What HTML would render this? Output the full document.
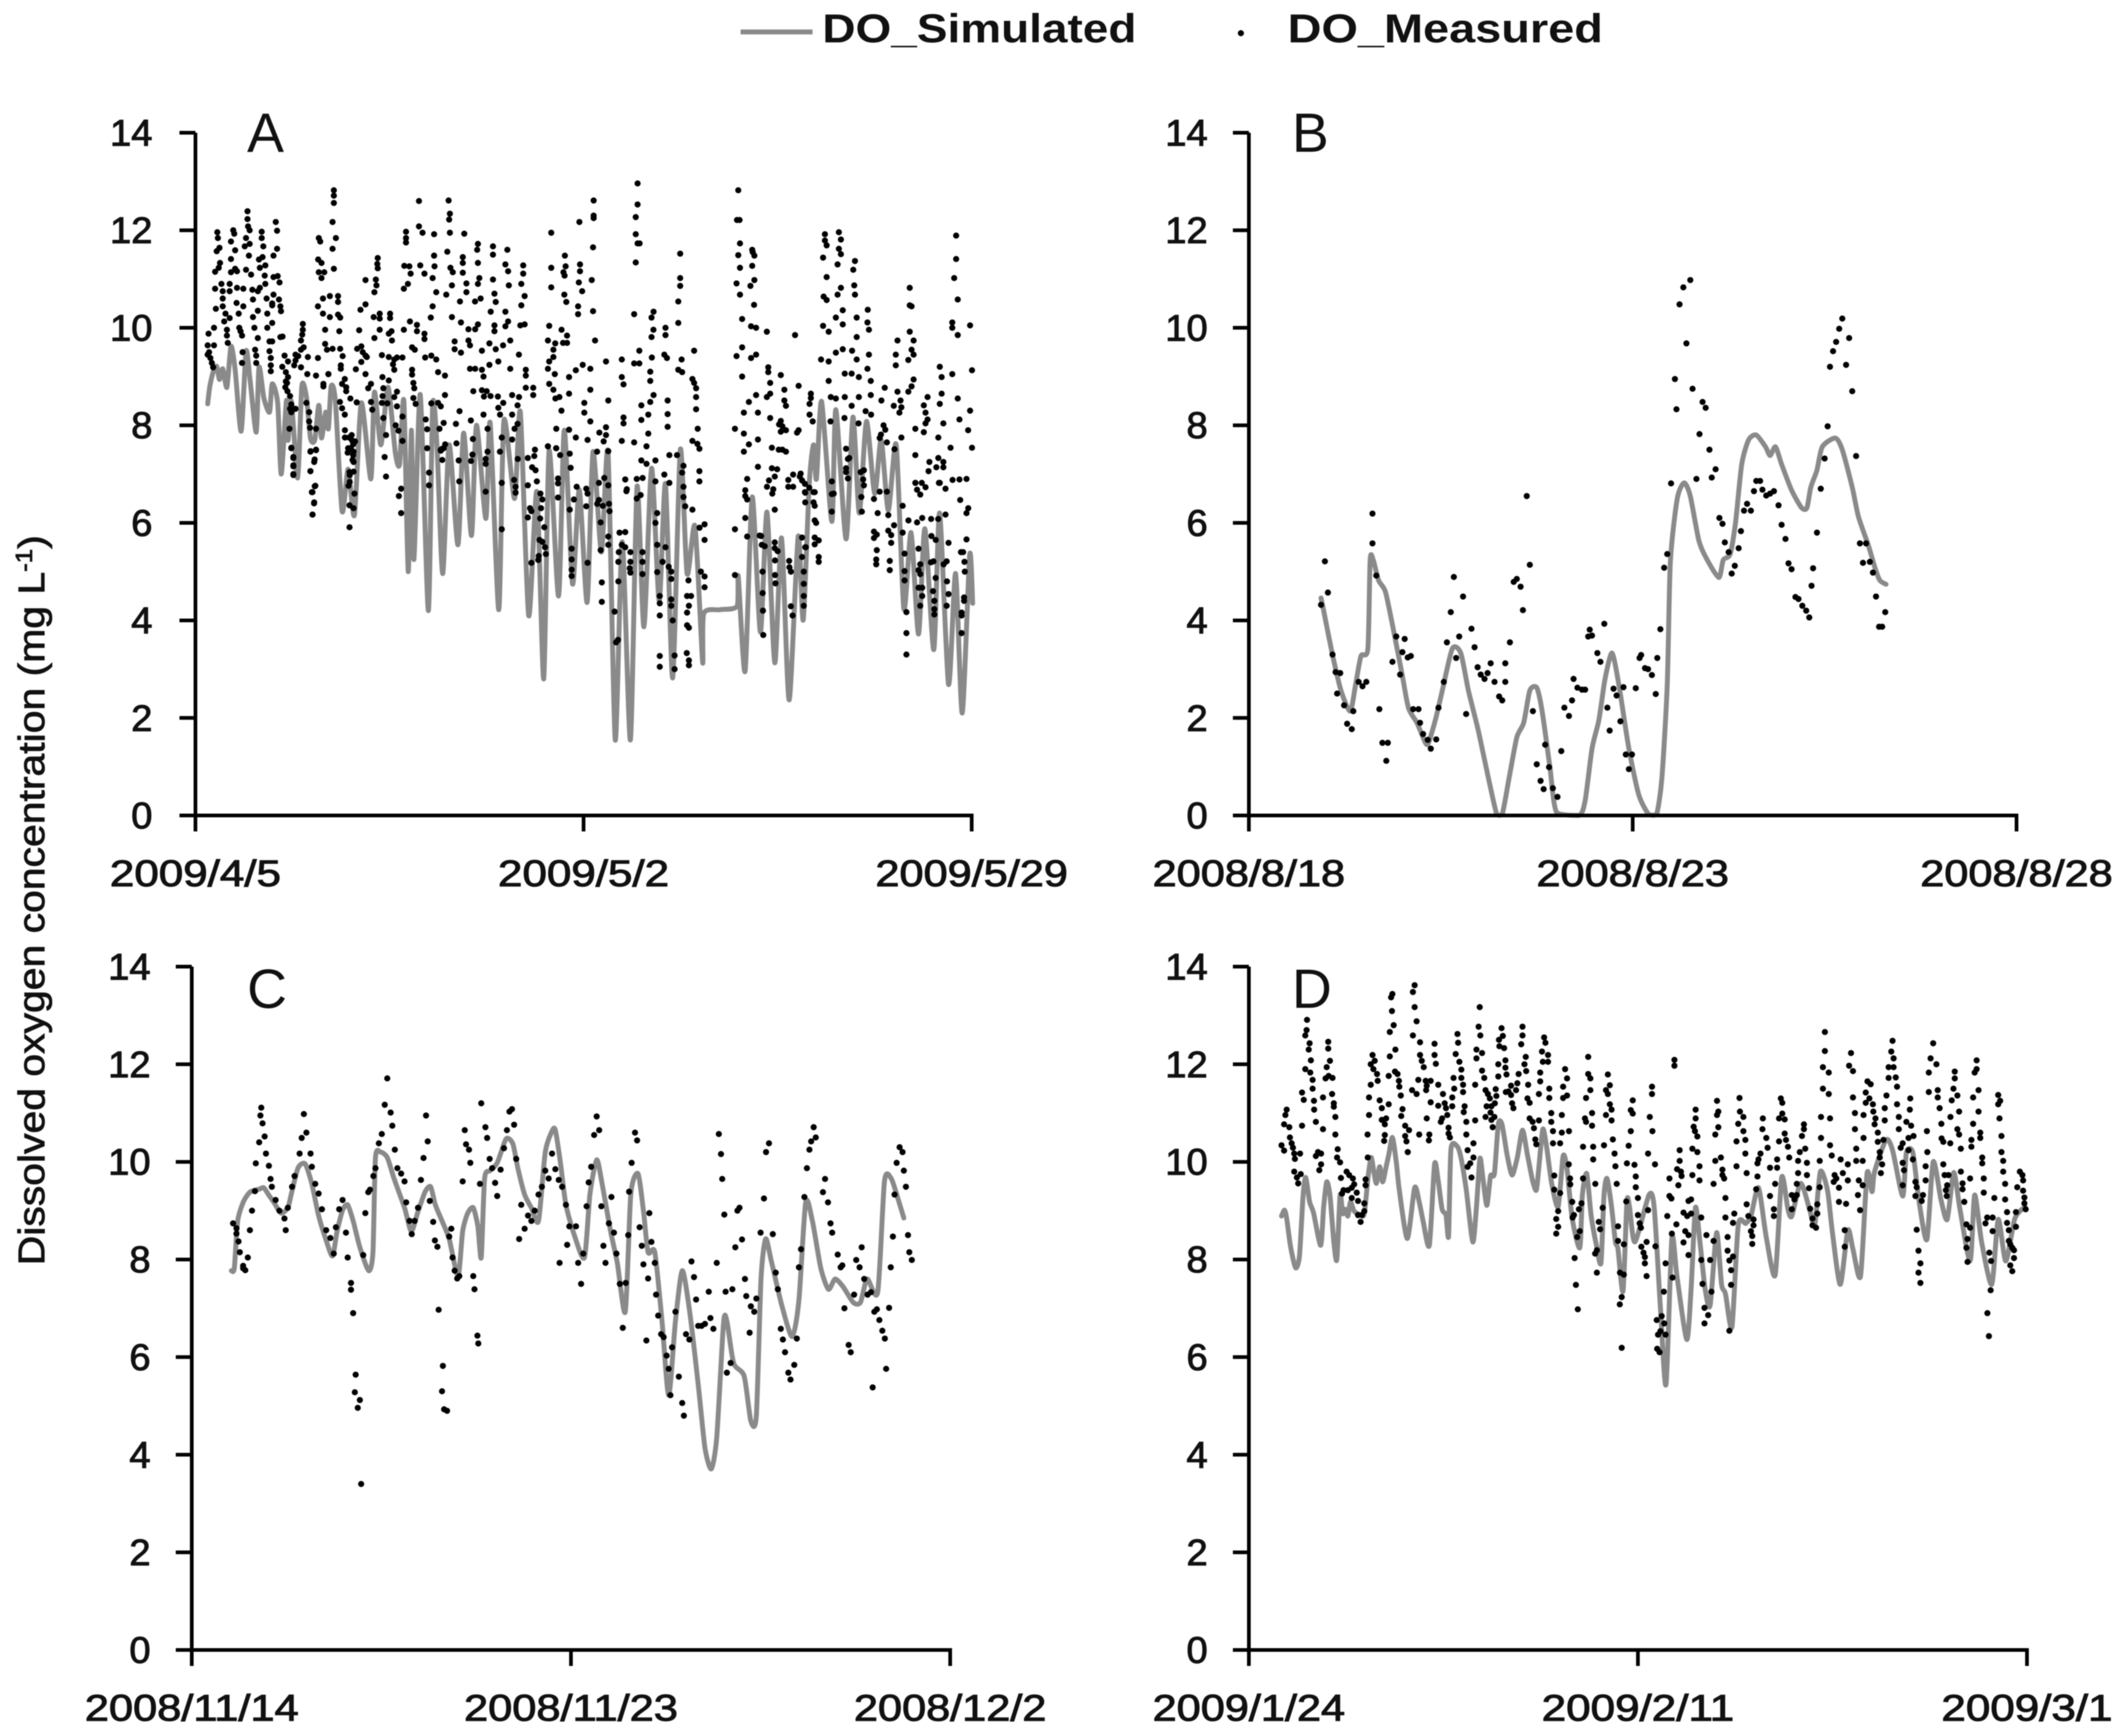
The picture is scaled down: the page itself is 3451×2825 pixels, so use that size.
<!DOCTYPE html>
<html lang="en">
<head>
<meta charset="utf-8">
<title>Dissolved oxygen simulated vs measured</title>
<style>
html,body{margin:0;padding:0;background:#fff;}
#chart{display:block;width:3451px;height:2825px;filter:blur(0.7px);}
text{font-family:"Liberation Sans",sans-serif;fill:#111;}
.tick{font-size:60px;stroke:#111;stroke-width:1.5px;}
.letter{font-size:90px;}
.legend{font-size:66px;font-weight:bold;}
.title{font-size:60px;stroke:#111;stroke-width:1.2px;}
</style>
</head>
<body>
<svg id="chart" xmlns="http://www.w3.org/2000/svg" width="3451" height="2825" viewBox="0 0 3451 2825">
<rect width="3451" height="2825" fill="#fff"/>
<g>
<line x1="1205" y1="52" x2="1322" y2="52" stroke="#8a8a8a" stroke-width="8"/>
<text class="legend" x="1338" y="69" textLength="511" lengthAdjust="spacingAndGlyphs">DO_Simulated</text>
<circle cx="2019" cy="54" r="5" fill="#000"/>
<text class="legend" x="2095" y="69" textLength="513" lengthAdjust="spacingAndGlyphs">DO_Measured</text>
</g>
<text class="title" transform="translate(72,2059) rotate(-90)" textLength="1188" lengthAdjust="spacingAndGlyphs">Dissolved oxygen concentration (mg L<tspan dy="-20" font-size="38">-1</tspan><tspan dy="20">)</tspan></text>
</svg>
<script>
const yTickValues=[0,2,4,6,8,10,12,14];
const xTickDaysA=[0,27,54];
const xTickLabelsA=['2009/4/5','2009/5/2','2009/5/29'];
const xTickDaysB=[0,5,10];
const xTickLabelsB=['2008/8/18','2008/8/23','2008/8/28'];
const xTickDaysC=[0,9,18];
const xTickLabelsC=['2008/11/14','2008/11/23','2008/12/2'];
const xTickDaysD=[0,18,36];
const xTickLabelsD=['2009/1/24','2009/2/11','2009/3/1'];

// [days since first axis date, DO mg/L]
const simulatedA=[[.85,8.44],[1,8.8],[1.23,9.09],[1.48,9.21],[1.67,8.94],[1.9,9.16],[2.19,8.78],[2.47,9.62],[2.76,9.14],[3.18,7.88],[3.52,9.52],[3.81,8.9],[4.23,7.86],[4.42,9.19],[4.76,8.56],[5.15,8.27],[5.34,8.85],[5.72,8.46],[5.97,7],[6.33,8.51],[6.44,7.69],[6.67,8.5],[7.11,6.92],[7.4,8.8],[7.72,8.58],[8,7.74],[8.3,7.7],[8.58,8.41],[8.77,7.74],[9.06,8.27],[9.25,7.93],[9.44,8.8],[9.73,8.51],[10.2,6.24],[10.62,7.1],[11.06,6.16],[11.54,8.46],[12.2,6.9],[12.45,8.68],[12.9,7.6],[13.4,8.78],[13.9,7.45],[14.2,7.2],[14.5,8.5],[14.8,5],[15.02,7.9],[15.2,5.25],[15.64,8.63],[16.2,4.2],[16.5,8.4],[16.8,7.6],[17.2,4.96],[17.65,7.6],[18.26,5.55],[18.66,7.84],[19.2,5.74],[19.55,8],[20.2,6.09],[20.5,8.05],[21.1,4.22],[21.46,8.1],[22.2,6.5],[22.6,8.27],[23.18,4.1],[23.75,6.64],[24.23,2.8],[24.6,7.48],[25.26,4.5],[25.66,7.9],[26.23,4.75],[26.7,6.68],[27.25,4.37],[27.66,7.46],[28.24,5.4],[28.7,7.44],[29.2,1.55],[29.69,5.61],[30.26,1.55],[30.72,6.74],[31.2,3.87],[31.73,7.12],[32.26,4.4],[32.7,6.8],[33.2,2.82],[33.73,7.5],[34.2,4.96],[34.75,5.93],[35.28,3.15],[35.36,4.14],[36.5,4.22],[37.67,4.29],[37.76,4.9],[38.24,2.96],[38.73,6.53],[39.3,3.76],[39.76,6.22],[40.3,3.13],[40.77,5.69],[41.3,2.37],[41.93,5.72],[42.28,4.01],[42.7,6.8],[43,7.6],[43.2,6.9],[43.56,8.49],[44.27,6.03],[44.55,8.32],[45.26,5.67],[45.74,8.17],[46.18,6.2],[46.68,8.08],[47.25,6.6],[47.7,7.7],[48.2,6.26],[48.75,7.6],[49.28,4.24],[49.78,5.8],[50.3,3.72],[50.74,5.88],[51.36,3.4],[51.77,6.2],[52.39,2.69],[52.88,4.96],[53.34,2.1],[53.86,5.34],[54.07,4.35]];
const measuredA=[[.91,9.88],[1.29,10],[.85,9.64],[1.29,9.64],[.85,9.45],[1.04,9.38],[1.14,9.28],[1.23,9.19],[.95,9.5],[1.52,11.96],[1.56,11.84],[1.48,11.57],[1.67,11.64],[1.71,11.33],[1.62,11.23],[1.37,11.15],[1.81,10.9],[1.37,10.8],[1.9,10.75],[2.38,10.9],[2.38,10.75],[1.9,10.6],[1.42,10.39],[1.9,10.44],[2.09,10.29],[2.38,10.2],[2,10.13],[2.19,9.96],[2.19,9.84],[2.25,9.69],[2.63,12],[2.7,11.93],[2.47,11.77],[2.76,11.59],[2.47,11.41],[2.76,11.21],[2.47,11.14],[2.89,11.16],[2.89,10.82],[3.33,10.8],[2.86,10.51],[3.33,10.44],[3.01,10.29],[3.05,10],[3.14,9.93],[3.24,9.84],[3.28,9.5],[3.24,9.28],[3.62,12.39],[3.62,12.23],[3.66,12.08],[3.77,12],[3.52,11.84],[3.77,11.72],[3.43,11.67],[3.72,11.48],[3.52,11.19],[3.87,11.09],[3.96,10.78],[4,10.58],[4,10.22],[4.34,10.35],[4.1,10],[4.34,9.79],[4.15,9.55],[4.23,9.43],[4.23,9.28],[4.61,11.97],[4.61,11.84],[4.72,11.67],[4.67,11.45],[4.42,11.4],[4.86,11.28],[4.48,11.23],[4.82,11.07],[4.86,10.9],[4.48,10.82],[4.34,10.75],[4.95,10.6],[5.34,10.5],[5,10.29],[5.34,10.1],[5,10],[5.15,9.72],[5.34,9.72],[5.15,9.52],[5.24,9.38],[5.24,9.23],[5.24,9.11],[5.59,12.17],[5.68,11.99],[5.68,11.62],[5.43,11.48],[5.72,11.06],[5.43,11.04],[5.85,10.93],[5.43,10.68],[5.81,10.58],[5.34,10.46],[5.91,10.44],[5.95,10.34],[5.91,9.81],[6.06,9.82],[6.2,9.43],[6.44,9.31],[6.04,9.2],[6.29,9.09],[6.44,8.99],[6.29,8.9],[6.37,8.87],[6.25,8.78],[6.4,8.7],[6.58,8.6],[6.67,8.43],[6.96,8.34],[6.58,8.34],[6.67,8.27],[6.54,7.93],[6.67,7.54],[6.81,7.35],[6.81,7.16],[6.81,6.98],[7.47,10.08],[7.47,9.96],[7.43,9.86],[7.34,9.74],[7.53,9.6],[7.34,9.55],[6.96,9.45],[7.15,9.42],[7.82,9.4],[6.96,9.33],[6.87,9.23],[7.34,9.19],[7.78,9.05],[8.39,9.02],[9.25,9.05],[7.72,8.46],[7.91,8.27],[7.91,8.08],[7.97,7.95],[8.39,7.93],[8.01,7.47],[8.39,7.49],[8.29,7.3],[8.0,7.06],[8.3,6.75],[8.1,6.63],[8.25,6.4],[8.15,6.17],[9.63,12.82],[9.63,12.71],[9.63,12.56],[9.54,12.17],[9.77,11.84],[9.54,11.62],[9.63,11.21],[8.58,11.84],[8.68,11.77],[8.54,11.4],[8.77,11.33],[8.58,11.14],[8.96,11.14],[8.77,11.02],[8.87,10.6],[9.35,10.65],[9.92,10.65],[9.92,10.53],[8.52,10.44],[8.87,10.29],[9.35,10.22],[9.92,10.27],[10.07,10.21],[9.02,9.96],[10.01,9.93],[9.02,9.67],[9.15,9.55],[9.54,9.57],[10.07,9.57],[8.52,9.38],[10.24,9.42],[10.11,9.23],[10.11,9.16],[9.25,9.05],[8.9,8.85],[8.9,8.8],[10.39,8.95],[10.2,8.85],[10.49,8.7],[10.49,8.78],[10.05,8.48],[10.78,8.55],[10.2,8.35],[10.39,8.22],[10.4,7.9],[10.68,7.75],[10.9,7.69],[11.1,7.67],[10.81,7.53],[11.0,7.46],[10.93,7.29],[10.59,7.44],[11,7.25],[11.0,7.05],[10.73,6.98],[10.73,6.84],[10.65,6.76],[11.06,6.6],[10.72,6.36],[12.68,11.43],[12.65,11.31],[12.68,11.22],[11.83,10.98],[12.55,10.99],[12.59,10.87],[12.45,10.73],[11.83,10.48],[11.48,10.37],[12.82,10.29],[13.54,10.29],[13.54,10.2],[12.4,10.22],[12.82,10.19],[12.82,9.96],[11.39,9.95],[13.64,9.93],[13.45,9.88],[12.45,9.79],[13.67,9.74],[11.54,9.62],[11.25,9.57],[11.64,9.5],[11.83,9.43],[11.92,9.4],[11.54,9.3],[12.97,9.44],[13.45,9.4],[13.83,9.35],[13.74,9.25],[13.83,9.14],[11.16,9.15],[11.83,9.05],[13.01,8.99],[13.45,8.92],[12.21,8.85],[12.02,8.76],[13.07,8.76],[13.02,8.6],[14.02,8.69],[13.83,8.58],[12.21,8.48],[12.3,8.32],[11.22,8.47],[12.97,8.46],[13.35,8.45],[14.02,8.39],[13.07,8.15],[14.4,8.18],[13.93,8],[14.12,7.89],[14.4,7.68],[14.02,9.39],[14.65,11.97],[14.65,11.84],[14.65,11.75],[15.55,12.6],[15.55,12.08],[15.8,11.95],[14.53,11.27],[14.88,11.26],[14.97,11.11],[15.64,11.28],[15.93,11.11],[14.78,10.9],[14.5,10.8],[16.6,11.92],[16.6,11.48],[16.63,11.26],[16.5,11.02],[16.75,10.73],[16.5,10.44],[16.37,10.21],[14.92,10.13],[15.41,10.06],[14.5,9.96],[15.41,9.93],[15.93,9.88],[15.93,9.77],[15.07,9.6],[15.26,9.55],[14.4,9.39],[15.98,9.39],[16.41,9.43],[16.75,9.35],[15.07,9.14],[15.07,9.04],[16.88,9.09],[17.36,9.02],[15.16,8.87],[15.22,8.76],[17.36,8.62],[15.16,8.56],[15.32,8.44],[16.41,8.45],[16.88,8.46],[17.07,8.39],[16.02,8.12],[16.12,7.92],[17.27,8.05],[16.98,7.93],[17.27,7.53],[17.07,7.5],[18.12,8.03],[18.37,8.29],[19.16,8.1],[19.33,8.7],[19.93,8.72],[20.07,8.59],[20.26,8.7],[20.53,8.6],[21.04,8.59],[21.41,8.46],[21.07,8.36],[21.19,8.22],[22.03,8.22],[22.03,8.62],[22.51,8.58],[22.41,8.41],[20.04,8.22],[20.32,7.93],[21.31,7.75],[22.03,7.71],[22.41,8.03],[22.2,7.93],[17.61,12.61],[17.7,12.34],[17.65,12.22],[17.7,11.95],[18.7,11.93],[17.52,11.56],[19.65,11.72],[19.6,11.6],[20.7,11.67],[20.7,11.5],[21.7,11.6],[18.6,11.45],[18.6,11.33],[19.65,11.33],[16.6,11.48],[17.74,11.23],[17.9,11.14],[18.6,11.13],[21.56,11.3],[21.75,11.16],[22.8,11.28],[22.8,11.11],[19.75,11.02],[20.7,10.99],[19.65,10.9],[18.85,10.91],[17.84,10.87],[21.8,10.87],[22.67,10.9],[17.45,10.68],[18.85,10.73],[20.8,10.7],[20.89,10.53],[19.84,10.6],[19.45,10.54],[18.4,10.54],[22.9,10.65],[22.67,10.46],[17.84,10.22],[18.47,10.11],[20.54,10.33],[21.56,10.33],[21.75,10.13],[18.99,9.97],[19.65,10.07],[19.46,9.97],[20.8,10.05],[20.8,9.93],[21.56,10.03],[22.6,10.05],[22.9,10.07],[18.03,9.72],[18.03,9.56],[18.47,9.49],[18.99,9.74],[19.1,9.64],[19.93,9.53],[20.45,9.68],[20.89,9.56],[21.4,9.64],[21.9,9.74],[22.5,9.45],[19.1,9.16],[19.46,9.16],[19.93,9.14],[20.04,9.0],[20.45,9.24],[21.07,9.31],[21.9,9.16],[22.98,9.14],[22.98,9.02],[22.98,8.77],[23.5,8.77],[23.5,8.62],[24.75,11.95],[24.75,11.23],[24.75,10.83],[25.7,11.48],[25.75,11.26],[25.68,11.07],[25.6,11.14],[26.71,12.17],[27.7,12.61],[27.7,12.3],[27.7,12.25],[27.66,11.65],[26.75,11.3],[26.75,11.16],[27.57,10.98],[26.67,10.93],[26.9,10.75],[25.66,10.68],[25.8,10.53],[26.62,10.44],[26.62,10.28],[27.66,10.34],[24.61,10.04],[25.47,9.96],[25.85,9.84],[25.85,9.69],[24.52,9.74],[25.03,9.68],[25.57,9.69],[27.8,9.74],[24.9,9.55],[24.9,9.4],[24.61,9.31],[24.52,9.16],[25.0,9.05],[25.99,8.99],[26.46,9.13],[26.94,9.24],[27.47,9.16],[28.56,9.31],[24.61,8.85],[24.9,8.73],[25.32,8.58],[25.04,8.55],[25.99,8.65],[27.47,8.73],[28.72,8.51],[27.05,8.46],[25.46,8.3],[27.05,8.26],[27.47,8.08],[25.1,7.93],[25.99,7.91],[26.46,7.75],[27.28,7.7],[28.1,7.85],[28.56,7.96],[28.56,7.8],[28.4,7.67],[24.52,7.57],[25.1,7.53],[27.94,7.46],[28.72,7.47]
,[6.67,7.53],[6.81,7.33],[6.81,7.18],[6.81,7],[8.39,7.5],[8.0,7.46],[8.26,7.25],[8.0,7.06],[8.34,6.76],[8.14,6.63],[8.26,6.42],[8.14,6.17],[10.4,7.75],[10.87,7.8],[10.97,7.61],[10.62,7.53],[10.97,7.39],[10.72,7.04],[11.0,6.3],[10.72,5.91],[13.26,7.8],[13.16,7.35],[13.26,6.95],[14.4,7.68],[14.31,6.7],[14.15,6.55],[14.31,6.2],[16.12,7.53],[16.25,7.03],[16.25,6.77],[17.17,7.52],[17.37,7.61],[17.07,7.48],[17.17,7.29],[18.16,7.63],[18.31,7.28],[19.3,7.72],[19.27,7.4],[19.17,7.27],[18.35,6.85],[20.32,7.46],[20.19,7.31],[20.19,7.21],[20.19,6.64],[21.31,7.75],[21.18,7.46],[22.42,7.31],[21.31,6.82],[21.31,5.87],[22.17,6.88],[22.27,6.74],[22.27,6.62],[23.12,7.33],[23.62,7.5],[23.57,7.37],[23.12,6.77],[23.42,7.14],[23.66,7.08],[23.75,6.85],[24.0,6.6],[24.13,6.48],[24.04,6.3],[23.98,6.09],[24.27,5.91],[23.27,6.3],[23.37,6.24],[23.12,6.11],[23.93,5.65],[24.13,5.61],[24.32,5.5],[24.38,5.36],[23.88,5.32],[23.85,5.24],[23.37,5.18],[24.52,7.57],[25.09,7.53],[25.37,7.39],[26.04,7.42],[26.1,7.13],[25.22,6.91],[25.22,6.81],[25.22,6.52],[26.04,6.27],[26.17,5.47],[26.17,5.25],[26.17,5.04],[26.17,4.91],[26.52,6.74],[26.33,6.48],[27.19,6.7],[27.28,6.6],[27.19,6.34],[27.28,5.18],[28.07,6.82],[28.44,6.92],[28.72,6.77],[28.07,6.47],[27.95,6.39],[28.34,6.35],[28.77,6.39],[28.81,6.24],[28.19,6.01],[28.19,5.44],[28.27,4.78],[28.27,4.38],[28.72,5.72],[28.72,5.55]
,[30.76,12.96],[30.76,12.53],[30.63,12.27],[30.63,11.92],[30.76,11.73],[30.9,11.73],[30.63,11.34],[30.52,10.28],[31.87,10.33],[31.73,10.21],[31.86,9.96],[31.73,9.81],[32.7,10],[32.7,9.85],[30.88,9.53],[29.66,9.35],[30.52,9.27],[30.88,9.27],[31.75,9.39],[32.62,9.45],[32.8,9.38],[33.72,11.52],[33.72,11.02],[33.72,10.86],[33.59,10.54],[33.59,10.1],[34.69,9.53],[33.82,9.35],[33.59,9.14],[33.86,9.09],[34.57,8.95],[34.69,8.87],[34.83,8.76],[34.83,8.58],[34.83,8.33],[34.94,7.93],[34.57,7.68],[34.92,7.62],[35.06,7.52],[35.06,7.06],[35.06,6.85],[29.66,8.99],[29.78,8.84],[31.64,9.1],[31.64,8.91],[31.87,8.62],[31.64,8.48],[31.02,8.41],[31.5,8.22],[31.02,8.11],[29.78,8.16],[29.78,8.04],[31.5,7.83],[29.66,7.68],[30.52,7.65],[31.38,7.57],[31.02,7.28],[31.38,7.21],[32,7.28],[29.9,6.89],[31.11,6.92],[32,6.85],[30.01,6.69],[32.62,6.99],[32.97,6.82],[33.5,7.39],[32.97,7.39],[32.85,8.51],[32.85,8.23],[32.85,7.97],[33.95,7.17],[33.86,7.03],[33.95,6.74],[33.95,6.53],[34.07,6.34],[34.57,6.27],[29.9,6.89],[29.98,6.65],[29.9,5.81],[29.9,5.5],[29.5,5.8],[29.45,5.4],[29.42,5.2],[29.66,5.55],[29.42,4.8],[29.16,4.18],[29.26,3.55],[29.4,3.6],[30.26,5.4],[30.26,5.2],[30.26,4.98],[30.21,5.07],[30.7,6.9],[30.7,6.5],[30.97,6.57],[31.1,5.4],[31.1,5.2],[31.1,4.95],[32.12,6.2],[32,6.0],[32.12,5.55],[32.12,4.99],[32.5,5.2],[32.3,4.5],[32.3,4.35],[32.3,4.1],[32.3,3.27],[32.3,3.05],[32.7,5.5],[32.92,5.1],[33.1,5],[33.1,4.85],[33.1,4.43],[33.1,4.3],[33.2,4],[33.33,3.28],[33.33,3.0],[34.3,4.82],[34.48,4.5],[34.2,4.5],[34.33,4.3],[34.2,4.16],[34.33,3.85],[34.2,3.9],[34.33,3.08],[34.18,3.33],[34.33,3.18],[35.07,5.9],[35.16,5.0],[35.42,5.97],[35.42,5.65],[35.42,4.9],[35.42,4.68],[37.53,5.87],[37.53,4.93],[38.25,6.67],[38.25,6.55],[38.38,6.48],[38.25,6.1],[38.38,5.72],[37.76,12.82],[37.67,12.21],[37.85,12.21],[37.88,11.73],[37.76,11.49],[37.88,11.23],[37.64,10.91],[37.88,10.68],[38.73,11.6],[38.77,11.55],[38.88,11.48],[38.73,11.27],[38.88,10.98],[38.61,10.86],[38.86,10.47],[38.03,10.18],[38.65,10.03],[39,10],[39.75,9.92],[41.71,9.85],[38.03,9.6],[37.64,9.42],[38.65,9.38],[39,9.45],[38.03,9],[39.85,9.19],[39.85,9.09],[40.72,9.03],[39.98,8.87],[41.96,8.81],[40.97,8.73],[39.98,8.65],[39.75,8.58],[39,8.62],[38.5,8.48],[40.97,8.51],[41.08,8.4],[38.15,8.26],[39.13,8.26],[39.98,8.15],[40.72,8.09],[40.6,8.02],[40.83,7.98],[41.08,7.9],[37.53,7.93],[38.15,7.83],[40.72,7.87],[41.96,7.9],[41.85,7.85],[39.13,7.71],[38.5,7.61],[38.15,7.46],[40.1,7.54],[40.58,7.5],[40.83,7.5],[41.08,7.46],[39.13,7.15],[40.1,7.12],[40.47,7.1],[39.9,6.87],[40.3,6.95],[38.38,6.9],[41.58,6.99],[39.76,6.74],[40.2,6.69],[41.58,6.74],[42.1,7.01],[42.04,6.95],[42.2,6.87],[42.4,6.8],[42.7,6.72],[40.3,6.27],[40.13,6.6],[41.24,6.88],[41.24,6.74],[42.42,6.62],[42.42,6.42],[39.25,5.74],[39.35,5.73],[39.4,5.55],[39.6,5.52],[39.45,5.0],[40.3,5.6],[40.3,5.48],[39.46,4.56],[39.48,4.2],[39.5,3.7],[40.5,5.42],[40.32,5.23],[40.32,4.93],[40.35,4.76],[41.3,5.22],[41.32,5.09],[41.42,5.0],[41.42,4.29],[41.54,4.1],[42.2,5.7],[42.46,5.5],[42.2,5.3],[42.32,5.0],[42.32,4.75],[42.32,4.5],[42.32,4.3],[42.4,6.63],[42.42,5.5],[43.0,6.63],[43.0,6.42],[43.08,6.63],[43.08,6.35],[43.08,6.05],[43.08,5.7],[43.08,5.56],[43.18,6.0],[43.36,5.64],[43.36,5.3],[43.36,5.2],[44.27,6.85],[44.27,6.59],[44.4,6.6],[44.27,6.23],[45.26,7.52],[45.39,7.31],[45.48,7.33],[45.26,7.12],[45.26,7.04],[45.39,6.91],[46.28,7.04],[46.5,7.08],[46.45,6.89],[46.5,6.77],[46.32,6.53],[46.36,6.23],[47.2,6.49],[47.6,6.64],[48.1,6.64],[47.46,6.2],[48.2,6.16],[47.2,5.82],[47.4,5.76],[47.2,5.69],[47.4,5.44],[47.36,5.25],[47.36,5.15],[48.2,5.84],[48.4,5.75],[48.6,5.95],[48.4,5.59],[48.3,5.22],[48.3,5.03],[49.2,6.35],[49.2,5.8],[49.33,5.37],[49.33,5.01],[49.33,4.82],[49.46,4.17],[49.46,3.74],[49.46,3.3],[49.6,6.05],[50.2,6.01],[50.09,6.82],[50.2,6.68],[50.42,6.58],[50.56,6.1],[51.18,6.08],[51.67,6.08],[52.18,6.17],[51.2,5.73],[51.5,5.65],[50.3,5.47],[50.42,5.15],[50.3,5.03],[50.42,4.95],[50.3,4.67],[50.56,4.67],[50.56,4.5],[50.42,4.3],[51.34,5.21],[51.16,5.19],[51.49,4.87],[51.31,4.6],[51.4,4.4],[51.4,4.23],[51.4,4.12],[52.39,5.59],[52.26,5.21],[52.05,5.15],[52.28,4.8],[52.39,4.54],[52.26,4.3],[53.64,5.66],[53.4,5.4],[53.5,5.2],[53.25,5.4],[53.52,5],[53.47,4.47],[53.47,4.4],[53.3,4.16],[53.3,4.1],[53.3,3.74]
,[43.79,11.92],[43.79,11.79],[43.91,11.69],[43.66,11.44],[43.91,11.04],[43.7,10.64],[43.91,10.57],[43.66,10.04],[44.05,9.92],[44.76,11.96],[44.9,11.81],[44.76,11.62],[44.9,11.51],[44.67,11.3],[44.9,10.82],[44.67,10.68],[45.88,11.37],[45.76,11.19],[45.83,10.87],[45.88,10.68],[45.03,10.36],[44.55,10.21],[45.03,10.07],[46,10.21],[46,9.81],[46.77,10.37],[46.75,10.11],[46.85,9.96],[45.03,9.56],[44.55,9.49],[45.68,9.53],[46,9.35],[46.85,9.45],[43.52,9.35],[44.05,9.31],[46.75,9.16],[45.17,9.06],[45.65,9.06],[46.15,8.99],[46.98,8.91],[44.05,8.91],[42.81,8.65],[42.81,8.56],[42.72,8.44],[44.2,8.58],[44.55,8.55],[45.17,8.58],[46.15,8.58],[46.98,8.62],[45.65,8.4],[42.72,8.22],[42.94,8.08],[44.18,8.08],[45.15,8.15],[46.13,8.04],[46.62,8.29],[47,8.22],[47.72,8.51],[47.95,8.77],[48.84,8.69],[48.84,9.74],[48.72,9.45],[48.72,9.23],[49.69,10.82],[49.69,10.46],[49.82,10.44],[49.69,9.92],[49.96,9.74],[49.82,9.55],[49.96,9.45],[49.59,9.34],[49.96,8.94],[49.82,8.8],[49.59,8.69],[49.05,8.51],[48.58,8.4],[49.11,8.37],[48.97,8.26],[47.99,7.91],[47.87,8],[47.69,7.81],[47.6,7.74],[48.1,7.65],[49.11,7.75],[48.63,7.51],[50.08,7.93],[50.67,8.41],[50.79,8.26],[50.93,8.12],[50.79,8.04],[50.67,7.86],[50.93,8.58],[51.78,9.2],[51.91,8.99],[51.91,8.65],[51.78,8.44],[52.03,8.04],[51.68,7.75],[50.08,7.39],[51.06,7.25],[51.68,7.33],[52.03,7.25],[51.54,7.14],[52.03,7.14],[51,7.06],[50.08,6.82],[50.53,6.82],[50.79,6.73],[51.78,6.82],[52.92,11.89],[52.92,11.41],[52.78,11.02],[53.03,10.58],[52.65,10.11],[52.65,10],[53.03,9.85],[53.89,10.05],[52.65,9.05],[54.02,9.13],[53.03,8.55],[53.89,8.3],[53.15,8.12],[53.75,7.9],[52.53,7.54],[54.02,7.54],[53.15,6.89],[51.72,6.82],[52.18,6.7],[52.67,6.88],[53.64,6.9],[53.2,6.47],[53.76,6.3],[53.64,6.2]];

const simulatedB=[[.94,4.46],[.97,4.23],[1.09,3.29],[1.2,2.56],[1.32,2.14],[1.39,2.68],[1.46,3.27],[1.55,3.42],[1.58,5.24],[1.62,5.24],[1.69,4.82],[1.78,4.58],[1.89,3.75],[2,2.86],[2.08,2.2],[2.19,1.9],[2.3,1.49],[2.34,1.49],[2.43,1.96],[2.52,2.56],[2.65,3.42],[2.76,3.33],[2.86,2.56],[2.99,1.73],[3.12,.77],[3.23,.02],[3.3,.02],[3.39,.77],[3.49,1.6],[3.58,1.9],[3.66,2.56],[3.75,2.62],[3.82,2.14],[3.92,1.01],[4.01,.06],[4.3,0],[4.38,.3],[4.47,1.37],[4.56,1.96],[4.64,2.8],[4.73,3.33],[4.82,2.68],[4.95,1.37],[5.08,.42],[5.21,.02],[5.31,.02],[5.38,.77],[5.45,2.68],[5.49,5.18],[5.58,6.49],[5.67,6.82],[5.75,6.55],[5.86,5.65],[5.95,5.3],[6.12,4.88],[6.18,5.24],[6.27,5.36],[6.34,6.01],[6.42,7.2],[6.51,7.7],[6.61,7.8],[6.73,7.56],[6.79,7.38],[6.86,7.56],[6.94,7.2],[7.07,6.67],[7.2,6.31],[7.27,6.31],[7.32,6.73],[7.4,7.08],[7.47,7.56],[7.64,7.74],[7.73,7.5],[7.86,6.73],[7.94,6.13],[8.07,5.54],[8.16,5.06],[8.22,4.82],[8.3,4.74]];
const measuredB=[[.94,4.32],[.99,5.21],[1.03,4.57],[1.09,3.3],[1.13,2.94],[1.19,2.92],[1.15,2.5],[1.24,2.26],[1.28,1.88],[1.34,1.77],[1.36,2.14],[1.43,2.74],[1.48,2.65],[1.53,2.74],[1.61,5.58],[1.61,6.19],[1.66,4.92],[1.7,2.18],[1.74,1.49],[1.81,1.49],[1.79,1.12],[1.87,3.15],[1.92,3.67],[1.97,2.89],[2,3.35],[2.03,3.62],[2.07,3.24],[2.11,3.27],[2.14,2.18],[2.21,2.18],[2.23,1.9],[2.27,1.67],[2.33,1.55],[2.37,1.37],[2.47,2.21],[2.44,1.56],[2.54,2.74],[2.58,3.55],[2.63,4.17],[2.67,4.89],[2.7,3.23],[2.74,3.67],[2.79,4.49],[2.83,2.08],[2.9,3.83],[2.94,3.45],[2.98,3.04],[3.02,2.89],[3.07,2.8],[3.11,2.92],[3.15,3.12],[3.2,2.74],[3.26,2.44],[3.3,2.36],[3.34,3.12],[3.34,2.74],[3.4,3.55],[3.45,4.79],[3.49,4.85],[3.54,4.69],[3.57,4.21],[3.62,6.55],[3.66,5.14],[3.7,2.14],[3.75,1.05],[3.8,.71],[3.84,.54],[3.86,1.45],[3.91,.99],[3.96,.56],[4.02,.38],[4.07,1.32],[4.11,2.21],[4.17,2.04],[4.23,2.8],[4.21,2.36],[4.28,2.62],[4.34,2.58],[4.38,2.58],[4.42,3.67],[4.44,3.81],[4.47,3.69],[4.54,3.33],[4.58,3.15],[4.63,3.93],[4.67,2.21],[4.7,1.74],[4.75,2.6],[4.79,2.46],[4.84,1.93],[4.88,2.63],[4.91,1.25],[4.95,.95],[4.99,1.25],[5.04,2.61],[5.09,3.23],[5.11,3.29],[5.16,3.02],[5.2,3],[5.25,2.88],[5.3,2.49],[5.32,3.23],[5.36,3.82],[5.41,5.08],[5.45,5.36],[5.5,6.81],[5.55,8.95],[5.57,8.33],[5.61,10.48],[5.66,10.83],[5.7,9.68],[5.75,10.98],[5.78,8.75],[5.83,6.9],[5.87,7.82],[5.91,8.48],[5.95,8.36],[6,7.5],[6.03,6.93],[6.08,7.1],[6.13,6.1],[6.17,5.98],[6.2,5.6],[6.25,5.4],[6.29,4.96],[6.33,5.12],[6.38,5.48],[6.41,5.83],[6.45,6.25],[6.49,6.39],[6.54,6.25],[6.58,6.65],[6.61,6.86],[6.66,6.86],[6.69,6.68],[6.74,6.56],[6.79,6.6],[6.84,6.65],[6.9,6.36],[6.94,5.96],[6.99,5.67],[7.03,5.17],[7.07,5.05],[7.12,4.48],[7.16,4.44],[7.21,4.3],[7.26,4.2],[7.3,4.06],[7.33,4.71],[7.35,5.07],[7.4,5.8],[7.45,6.7],[7.5,7.32],[7.54,7.98],[7.57,9.2],[7.61,9.52],[7.65,9.71],[7.69,9.98],[7.73,10.19],[7.78,9.24],[7.82,9.79],[7.86,8.7],[7.91,7.37],[7.96,5.58],[8,5.18],[8.04,5.58],[8.09,5.2],[8.13,4.98],[8.17,4.49],[8.21,3.87],[8.25,3.87],[8.29,4.17]];

const simulatedC=[[.94,7.77],[1.01,7.82],[1.09,8.79],[1.22,9.17],[1.38,9.38],[1.6,9.44],[1.71,9.47],[1.82,9.33],[1.95,9.17],[2.12,8.95],[2.28,9.06],[2.36,9.33],[2.52,9.87],[2.69,9.96],[2.85,9.55],[3.01,8.9],[3.18,8.42],[3.34,8.07],[3.45,8.58],[3.58,9.01],[3.7,9.12],[3.83,8.79],[3.99,8.25],[4.2,7.77],[4.3,8.15],[4.36,10.09],[4.48,10.2],[4.64,10.09],[4.8,9.66],[5.05,9.06],[5.21,8.58],[5.37,8.98],[5.54,9.39],[5.67,9.49],[5.78,9.12],[5.94,8.79],[6.11,8.42],[6.32,7.66],[6.43,8.58],[6.55,8.95],[6.68,9.06],[6.79,8.68],[6.87,8.04],[6.95,9.66],[7.08,9.82],[7.25,9.98],[7.46,10.47],[7.62,10.37],[7.74,9.87],[7.9,9.33],[8.06,9.06],[8.23,8.79],[8.39,10.2],[8.55,10.63],[8.63,10.65],[8.75,9.98],[8.88,9.12],[9.09,8.47],[9.32,8.04],[9.45,9.33],[9.61,10.04],[9.74,9.55],[9.94,8.58],[10.1,7.93],[10.29,6.93],[10.42,9.33],[10.59,9.76],[10.72,9],[10.83,8.15],[10.99,8.15],[11.16,6.74],[11.32,5.22],[11.48,6.74],[11.64,7.77],[11.81,6.98],[12.02,5.44],[12.18,4.14],[12.33,3.71],[12.46,4.36],[12.62,6.69],[12.7,6.74],[12.86,5.88],[13.11,5.61],[13.27,4.69],[13.4,4.8],[13.51,7.6],[13.62,8.42],[13.75,7.99],[14,7.07],[14.25,6.42],[14.41,7.17],[14.57,9.17],[14.73,8.79],[14.93,7.82],[15.11,7.39],[15.27,7.6],[15.46,7.44],[15.7,7.12],[15.87,7.12],[16.03,7.6],[16.28,7.33],[16.44,9.6],[16.6,9.66],[16.77,9.22],[16.9,8.85]];
const measuredC=[[.98,8.74],[1.06,8.64],[1.06,8.53],[1.11,8.37],[1.14,8.15],[1.22,7.82],[1.33,8.04],[1.22,7.87],[1.27,7.78],[1.38,8.6],[1.43,9],[1.5,9.4],[1.52,9.97],[1.6,10.4],[1.63,10.95],[1.65,11.11],[1.68,10.79],[1.73,10.52],[1.76,10.17],[1.83,9.92],[1.87,9.65],[1.9,9.49],[1.99,9.22],[2.08,9],[2.2,8.84],[2.23,8.6],[2.28,9.06],[2.38,9.49],[2.44,9.71],[2.56,10.17],[2.61,10.49],[2.66,10.98],[2.72,10.6],[2.82,10.17],[2.85,9.9],[2.93,9.55],[3.01,9.35],[3.09,9.03],[3.19,8.6],[3.29,8.44],[3.37,8.12],[3.42,8.66],[3.5,9.03],[3.58,9.22],[3.66,8.55],[3.7,8.04],[3.78,7.52],[3.78,7.38],[3.83,6.9],[3.89,5.64],[3.87,5.28],[3.99,5.12],[3.94,4.96],[4.02,3.4],[4.07,8.09],[4.12,8.95],[4.19,9.38],[4.23,9.43],[4.31,9.71],[4.36,9.87],[4.44,10.38],[4.51,10.57],[4.58,11.17],[4.64,11.71],[4.72,11.01],[4.76,10.74],[4.82,10.25],[4.88,9.87],[4.97,9.76],[5.05,9.6],[5.09,9.17],[5.17,8.79],[5.22,8.52],[5.29,8.79],[5.37,9.06],[5.44,9.63],[5.5,10.08],[5.56,10.95],[5.6,10.42],[5.65,9.2],[5.73,8.77],[5.77,8.39],[5.83,8.26],[5.86,6.97],[5.96,5.82],[5.94,5.3],[5.99,4.93],[6.06,4.9],[6.11,8.47],[6.16,8.63],[6.19,8.04],[6.24,7.77],[6.3,7.61],[6.35,7.66],[6.43,9.6],[6.48,10.65],[6.51,10.36],[6.58,10.25],[6.61,9.98],[6.68,7.66],[6.71,7.39],[6.78,6.44],[6.8,6.28],[6.84,9.55],[6.87,11.2],[6.97,10.71],[7.01,10.49],[7.07,10.06],[7.13,9.87],[7.2,9.57],[7.25,9.3],[7.33,9.84],[7.41,10.28],[7.48,10.65],[7.54,11.03],[7.6,11.08],[7.65,10.76],[7.7,10.06],[7.77,8.42],[7.82,9.12],[7.9,8.63],[7.98,8.9],[8.06,8.79],[8.14,9],[8.23,9.33],[8.31,9.49],[8.39,9.82],[8.47,9.66],[8.55,10.17],[8.63,9.85],[8.71,9.63],[8.73,7.93],[8.79,9.49],[8.88,9.12],[8.96,8.68],[8.91,8.3],[9.12,8.68],[9.17,7.93],[9.24,7.5],[9.29,8.12],[9.37,9.09],[9.42,9.58],[9.48,9.9],[9.55,10.55],[9.61,10.93],[9.67,10.65],[9.72,9.09],[9.77,8.28],[9.82,7.93],[9.9,8.74],[9.96,9.28],[10.02,8.55],[10.08,8.12],[10.16,7.5],[10.23,6.6],[10.3,7.52],[10.36,8.5],[10.38,9.39],[10.44,9.98],[10.52,10.6],[10.57,10.44],[10.63,8.66],[10.68,8.28],[10.72,7.9],[10.79,6.34],[10.83,7.61],[10.86,8.95],[10.91,8.36],[10.99,7.93],[11.02,7.28],[11.07,6.85],[11.14,6.47],[11.2,6.41],[11.27,6.03],[11.32,5.76],[11.36,5.22],[11.4,6.2],[11.48,6.93],[11.56,5.6],[11.64,5.06],[11.68,4.8],[11.73,6.47],[11.81,6.36],[11.86,7.96],[11.92,7.64],[11.97,7.18],[12.02,6.64],[12.1,6.64],[12.18,6.68],[12.27,7.34],[12.31,6.8],[12.38,6.58],[12.46,7.93],[12.51,10.57],[12.56,10.16],[12.59,9.65],[12.64,8.92],[12.67,7.34],[12.7,5.68],[12.79,5.88],[12.83,7.39],[12.9,8.25],[12.95,9],[13,9.06],[13.06,8.41],[13.13,7.6],[13.16,7.25],[13.24,6.5],[13.27,7.04],[13.35,6.93],[13.4,7.2],[13.5,8.55],[13.58,9.25],[13.63,10.2],[13.7,10.38],[13.79,8.52],[13.86,7.73],[13.91,7.39],[13.98,6.58],[14.03,6.36],[14.08,6.1],[14.16,5.68],[14.21,5.54],[14.3,5.84],[14.36,6.38],[14.41,7.84],[14.46,8.21],[14.54,9.28],[14.6,9.87],[14.66,10.25],[14.7,10.42],[14.76,10.71],[14.81,10.5],[14.98,9.38],[15.03,9.65],[15.1,9.17],[15.16,8.74],[15.2,8.55],[15.33,8.1],[15.4,7.84],[15.44,7.88],[15.49,7],[15.59,6.25],[15.64,6.1],[15.72,7.28],[15.77,7.99],[15.85,7.84],[15.9,8.25],[15.96,7.6],[16.04,7.28],[16.12,7.33],[16.16,5.38],[16.2,6.93],[16.26,6.98],[16.32,6.76],[16.39,6.54],[16.45,6.38],[16.48,5.76],[16.55,7.01],[16.59,7.84],[16.64,8.47],[16.68,9.33],[16.73,9.98],[16.8,10.3],[16.87,10.2],[16.9,9.82],[16.95,9.49],[17.0,8.5],[17.03,8.15],[17.09,7.99]];

const simulatedD=[[1.51,8.89],[1.65,9.01],[1.75,8.84],[1.93,8.26],[2.16,7.83],[2.34,8.07],[2.51,9.32],[2.63,9.68],[2.81,9.18],[2.99,8.96],[3.32,8.29],[3.46,9.08],[3.6,9.59],[3.75,9.32],[3.93,8.36],[4.07,8],[4.22,9.32],[4.34,8.94],[4.46,9.03],[4.58,8.89],[4.7,9.18],[4.87,8.99],[5.17,8.91],[5.34,8.94],[5.52,9.71],[5.66,10.09],[5.78,9.8],[5.9,9.56],[6.05,9.9],[6.19,9.59],[6.35,9.9],[6.47,10.14],[6.64,10.5],[6.82,10],[6.96,9.42],[7.33,8.43],[7.67,9.47],[7.88,9.18],[8.06,8.79],[8.35,8.29],[8.59,9.95],[8.76,9.61],[8.94,9.03],[9.12,8.91],[9.24,8.48],[9.35,10.26],[9.65,10.31],[9.83,10.05],[10.06,9.42],[10.36,8.36],[10.53,9.08],[10.69,10.07],[10.83,9.66],[11.01,9.11],[11.18,9.71],[11.36,9.76],[11.54,10.77],[11.71,10.77],[11.95,10.14],[12.18,9.73],[12.42,10.09],[12.66,10.65],[12.89,10.14],[13.13,9.61],[13.3,9.42],[13.42,9.9],[13.6,10.67],[13.78,10.29],[14.01,9.56],[14.31,9.08],[14.54,10.12],[14.72,9.85],[14.96,8.84],[15.31,8.24],[15.43,9.32],[15.63,9.76],[15.84,8.89],[16.08,8.29],[16.29,7.93],[16.43,9.32],[16.57,9.66],[16.78,9.08],[16.96,8.36],[17.08,8.21],[17.31,7.35],[17.49,9.18],[17.61,9.08],[17.86,8.36],[18.51,9.32],[18.75,9.08],[19.04,7.01],[19.3,5.44],[19.57,8.43],[19.81,7.64],[20.26,6.36],[20.46,7.39],[20.66,9.06],[20.87,8.36],[21.11,7.39],[21.34,7.06],[21.64,8.55],[21.87,7.49],[22.05,7.3],[22.35,6.62],[22.64,8.7],[22.99,8.74],[23.23,8.89],[23.58,9.47],[23.94,8.45],[24.35,7.68],[24.65,9.68],[24.94,9.03],[25.12,8.89],[25.53,9.56],[25.94,9.03],[26.18,8.7],[26.44,9.8],[26.77,9.42],[27,8.55],[27.36,7.49],[27.71,8.6],[27.95,8.21],[28.3,7.66],[28.6,9.76],[28.83,9.39],[28.95,9.8],[29.48,10.45],[29.78,10.24],[30.25,9.3],[30.42,10.19],[30.72,10.19],[31.01,9.18],[31.37,8.41],[31.66,10],[32.02,9.23],[32.31,8.82],[32.61,9.78],[32.9,9.03],[33.37,7.97],[33.58,9.32],[33.9,8.36],[34.37,7.49],[34.67,8.82],[35.02,7.97],[35.44,8.84],[35.91,9.08]];
const measuredD=[[2.69,12.91],[2.67,12.7],[2.61,12.59],[2.81,12.43],[2.77,12.3],[2.87,12.08],[2.61,11.9],[2.84,11.83],[2.95,11.68],[2.95,11.5],[2.46,11.42],[2.54,11.27],[3.01,11.25],[3.02,11.07],[3.43,11.32],[3.1,10.82],[3.43,10.67],[2.46,10.74],[3.67,12.46],[3.67,12.32],[3.75,12.07],[3.6,11.94],[3.55,11.71],[3.69,11.76],[3.87,11.72],[3.85,11.39],[3.93,11.2],[3.93,11.13],[4,10.92],[4,10.56],[4.11,10.26],[4.08,10.09],[4.22,9.99],[1.75,11.07],[1.69,10.96],[1.63,10.77],[1.87,10.71],[1.9,10.5],[1.98,10.38],[1.51,10.34],[1.63,10.23],[2.04,10.29],[2.1,10.17],[2.37,10.17],[2.13,10.06],[2.1,9.8],[2.4,9.75],[2.22,9.68],[2.28,9.56],[3.2,10.2],[3.1,10.12],[3.34,10.17],[3.34,9.95],[3.26,9.83],[4.52,9.8],[4.64,9.73],[4.81,9.66],[4.26,9.67],[4.87,9.54],[4.76,9.47],[4.38,9.42],[4.31,9.35],[4.58,9.42],[4.99,9.37],[4.76,9.26],[5.05,9.2],[5.34,9.15],[5.34,8.99],[5.05,8.91],[5.23,8.91],[5.17,8.77],[5.4,9.64],[5.4,9.52],[5.72,12.19],[5.82,12.07],[5.64,12],[5.76,11.9],[5.93,11.8],[5.96,11.66],[5.64,11.58],[5.56,11.32],[5.56,10.96],[5.49,10.56],[5.5,10.09],[6.64,13.44],[6.58,13.37],[6.62,13.09],[6.7,12.8],[6.52,12.66],[6.78,12.3],[6.52,12.16],[6.47,11.76],[6.76,11.85],[6.88,11.8],[6.94,11.66],[6.96,11.54],[7.03,11.36],[6.05,11.26],[6.15,11.1],[6.47,11.18],[7.11,11.08],[7.05,10.94],[6.15,10.86],[6.35,10.89],[6.29,10.77],[7.23,10.74],[7.41,10.65],[7.88,10.56],[7.23,10.53],[6.29,10.55],[6.26,10.43],[7.29,10.42],[7.35,10.2],[7.67,13.62],[7.59,13.48],[7.67,13.17],[7.76,12.88],[7.59,12.59],[7.92,12.45],[7.92,12.19],[8,12.07],[8.09,11.94],[7.84,11.68],[8.18,11.66],[8.41,11.66],[8.23,11.56],[8.2,11.47],[7.55,11.47],[7.76,11.39],[8.76,11.58],[8.41,11.22],[8.98,11.39],[9.41,11.32],[9.06,11.2],[8.76,11.15],[9.12,11.1],[9.41,11.14],[9.18,10.96],[8.23,10.89],[8.94,10.89],[8.88,10.82],[9.24,10.7],[9.24,10.58],[9.3,10.5],[8.35,10.56],[8.33,10.44],[8.59,12.42],[8.59,12.19],[8.65,12.01],[9.65,12.62],[9.68,12.44],[9.57,12.21],[9.74,12.05],[9.83,11.89],[9.47,11.72],[9.83,11.72],[9.91,11.58],[9.5,11.5],[9.91,11.43],[9.98,11.14],[9.94,11.02],[10.06,10.82],[10.06,10.56],[10.39,10.38],[10.12,10.24],[10.39,10.09],[10.24,9.97],[10.12,9.9],[10.3,9.68],[10.47,10.85],[10.68,13.17],[10.63,12.77],[10.71,12.59],[10.53,12.3],[10.79,12.23],[10.53,12.12],[10.79,11.87],[10.89,11.72],[10.47,11.58],[10.95,11.47],[11.06,11.39],[11.42,11.49],[11.45,11.35],[11.15,11.3],[11.38,11.2],[11,11.14],[11.22,11.14],[11.18,11.01],[10.95,10.92],[11.36,10.92],[11.22,10.86],[11.28,10.71],[11.69,12.74],[11.75,12.58],[11.57,12.5],[11.59,12.37],[11.81,12.33],[11.87,12.08],[11.54,12],[11.87,11.93],[11.92,11.79],[11.54,11.75],[12.48,11.8],[12.13,11.56],[12.01,11.44],[11.89,11.43],[12.36,11.47],[12.13,11.37],[12.18,11.2],[12.24,11.1],[12.66,12.77],[12.66,12.59],[12.6,12.41],[12.81,12.15],[12.75,12],[12.83,11.86],[12.42,11.61],[12.92,11.58],[12.89,11.3],[12.99,11.21],[12.99,10.89],[13.13,10.82],[13.42,10.85],[13.19,10.69],[13.25,10.46],[13.3,10.36],[13.66,12.55],[13.72,12.44],[13.56,12.26],[13.84,12.19],[13.6,12.05],[13.84,12.05],[13.48,11.83],[13.48,11.65],[13.42,11.39],[13.9,11.5],[13.9,11.31],[13.99,11],[13.99,10.82],[14.07,10.63],[14.07,10.38],[14.4,10.38],[14.13,9.72],[14.13,9.43],[14.4,9.36],[14.31,8.99],[14.22,8.83],[14.31,8.67],[14.22,8.53],[14.63,11.9],[14.72,11.71],[14.54,11.54],[14.72,11.36],[14.54,11.31],[14.48,10.96],[14.48,10.6],[14.81,10.63],[14.8,9.95],[14.86,9.66],[14.87,9.54],[14.96,9.18],[15.39,9.15],[15.27,9.03],[15.04,8.91],[14.98,8.86],[15.31,8.58],[15.19,8.46],[15.07,8.03],[15.13,7.48],[15.22,6.98],[15.7,12.15],[15.7,11.8],[15.8,11.71],[15.8,11.47],[15.6,11.31],[15.88,11],[15.55,10.89],[15.6,10.82],[15.88,10.74],[15.46,10.31],[15.93,10.31],[15.93,10.05],[15.46,9.66],[16.03,9.55],[16.61,11.79],[16.7,11.57],[16.52,11.47],[16.61,11.39],[16.7,11.18],[16.78,11.07],[16.52,10.96],[16.78,10.85],[16.43,10.34],[16.84,10.46],[16.92,10.17],[16.96,9.91],[17.02,9.55],[16.37,9.06],[16.19,8.77],[16.25,8.62],[16.1,8.19],[16.02,8.12],[16.1,7.73],[17.76,11.26],[17.67,11.06],[17.76,10.99],[17.67,10.63],[17.57,10.33],[17.49,9.97],[17.84,9.94],[17.9,9.7],[17.9,9.48],[18,9.26],[17.46,9.19],[17.08,8.68],[17.08,8.38],[17.35,8.31],[17.17,7.73],[17.35,7.69],[17.25,7.23],[17.16,7.08],[17.25,6.19],[18.65,11.54],[18.65,11.39],[18.55,10.92],[18.67,10.63],[18.47,10.17],[18.79,9.95],[18.47,9.01],[18,8.91],[18.08,8.74],[18.14,8.65],[18.4,8.36],[18.16,8.26],[18.26,8.14],[18.32,8.05],[18.32,7.92],[18.4,7.66],[18.81,8.27]
,[19.69,12.09],[19.69,11.97],[19.46,9.66],[19.46,9.3],[19.55,9.25],[19.36,8.89],[19.78,8.72],[19.57,8.53],[19.28,7.92],[19.6,7.63],[19.2,7.34],[19.87,9.52],[19.81,9.85],[19.99,9.8],[20.02,9.71],[19.93,10.24],[19.93,10.02],[19.1,6.84],[18.87,6.76],[19.22,6.69],[19.04,6.53],[18.93,6.46],[19.28,6.46],[18.89,6.17],[19,6.1],[20.52,10.27],[20.75,10.2],[20.67,11.07],[20.67,10.89],[20.58,10.72],[20.64,10.63],[20.75,10.52],[20.85,9.91],[20.52,9.73],[20.85,9.62],[20.34,9.2],[20.46,9.23],[20.11,8.96],[20.28,8.89],[20.46,8.94],[20.93,8.86],[20.19,8.58],[20.34,8.5],[20.11,8.35],[20.34,8.09],[20.93,7.99],[20.99,7.5],[21.17,8.5],[21.5,8.38],[21.34,7.99],[21.4,7.34],[21.08,7.01],[21.25,6.86],[21.08,6.69],[21.66,11.25],[21.72,11.03],[21.66,10.96],[21.72,10.71],[21.58,10.56],[21.84,10.09],[21.58,10.02],[21.5,9.55],[21.91,9.84],[21.91,9.73],[21.99,9.66],[22.05,9.26],[22.05,8.86],[22.46,8.94],[22.4,8.75],[22.15,8.46],[22.15,8.18],[22.4,8.06],[22.23,7.98],[22.31,7.78],[22.31,7.48],[22.23,6.54],[22.7,11.31],[22.72,11.03],[22.88,10.92],[22.64,10.78],[22.88,10.63],[22.97,10.45],[22.56,10.42],[22.97,10.17],[22.56,9.91],[23.03,9.77],[23.78,10.89],[23.76,10.67],[23.94,10.49],[24,10.29],[23.67,10.17],[23.58,10.05],[23.53,9.97],[23.53,9.7],[23.47,9.44],[24.11,9.3],[23.03,9.13],[23.11,8.89],[23.35,8.82],[23.35,8.7],[23.23,8.58],[23.29,8.48],[23.29,8.32],[24.29,9.03],[24.29,8.89],[24.11,9.88],[24.44,10.05],[24.44,9.88],[24.35,9.55],[24.61,11.3],[24.68,11.21],[24.68,10.99],[24.53,10.89],[24.79,10.87],[24.79,10.58],[24.53,10.42],[24.85,10.45],[24.94,10.31],[25,10.09],[25.12,9.32],[25.35,9.32],[25.24,9.23],[25.12,9.03],[25.68,10.77],[25.68,10.67],[25.59,10.53],[25.49,10.2],[25.74,10.27],[25.41,10.02],[25.82,9.98],[25.41,9.77],[25.82,9.73],[25.35,9.55],[25.92,9.46],[26.3,9.13],[25.97,9.04],[26.3,8.94],[26.08,8.84],[26.08,8.7],[26.24,8.65],[26.65,12.66],[26.65,12.27],[26.56,11.94],[26.83,11.83],[26.56,11.5],[26.83,11.39],[26.47,10.92],[26.89,10.89],[26.47,10.49],[26.89,10.34],[26.97,10.13],[26.41,10.02],[27.38,10.05],[27.71,9.95],[27.48,9.77],[27.1,9.73],[27.18,9.66],[27.71,9.62],[27.06,9.59],[27.3,9.47],[26.41,9.48],[27.3,9.18],[27.63,9.14],[27.57,8.6],[27.57,8.26],[27.86,12.23],[27.77,11.97],[27.95,11.86],[27.95,11.32],[28.04,11],[28.04,10.67],[28.1,10.27],[28.1,10.02],[28.4,10.02],[28.22,9.62],[28.4,9.52],[28.18,9.32],[28.28,9.01],[28.62,11.65],[28.77,11.59],[28.54,11.42],[28.71,11.3],[28.54,11.21],[28.87,11.18],[28.89,11.03],[28.44,10.96],[28.99,10.89],[28.95,10.77],[29.1,10.6],[28.44,10.49],[29.36,10.45],[29.1,10.41],[29.19,10.2],[29.19,10.09],[29.3,9.95],[29.24,9.77],[29.78,12.48],[29.72,12.26],[29.83,12.12],[29.6,11.94],[29.83,11.94],[29.6,11.72],[29.93,11.73],[29.99,11.54],[29.5,11.36],[29.42,11.1],[29.99,11.18],[29.42,10.85],[30.07,10.92],[30.07,10.67],[30.42,10.82],[30.64,10.74],[30.75,10.53],[30.52,10.49],[30.25,10.38],[30.16,10.29],[30.52,10.24],[30.72,10.05],[30.25,9.98],[30.31,9.83],[30.25,9.52],[30.84,9.59],[30.9,9.48],[30.84,9.3],[31.19,9.32],[31.13,9.2],[30.9,8.61],[30.98,8.18],[31.07,7.92],[30.98,7.73],[31.07,7.52],[30.6,11.3],[30.58,11.07],[31.37,10.63],[31.39,10.2],[31.31,9.91],[31.31,9.62],[31.66,12.43],[31.54,12.12],[31.81,12],[31.46,11.83],[31.46,11.43],[31.87,11.47],[31.87,11.32],[31.96,11.1],[32.04,10.78],[32.05,10.48],[32.13,10.41],[32.13,9.95],[32.19,9.73],[32.37,9.73],[32.31,9.52],[32.25,9.42],[32.29,9.3],[32.66,11.85],[32.66,11.71],[32.6,11.5],[32.78,11.36],[32.52,11.26],[32.86,11.03],[32.46,10.92],[32.78,10.67],[32.86,10.56],[32.45,10.38],[32.94,10.27],[32.94,9.8],[33.37,9.66],[33.02,9.56],[33.02,9.44],[33.1,9.18],[33.2,8.72],[33.37,8.65],[33.25,8.42],[33.2,8.24],[33.25,7.95],[33.67,12.08],[33.67,11.9],[33.58,11.83],[33.76,11.47],[33.51,11.32],[33.76,11.03],[33.51,10.78],[33.84,10.6],[33.84,10.49],[33.43,10.45],[33.43,10.31],[33.93,10.09],[33.93,9.97],[34,9.66],[34,9.37],[34.08,8.74],[34.16,8.86],[34.41,8.86],[34.41,8.58],[34.26,8.14],[34.34,7.97],[34.32,7.37],[34.17,6.9],[34.24,6.43],[34.67,11.37],[34.76,11.25],[34.67,11.18],[34.73,10.89],[34.82,10.53],[34.82,10.2],[34.9,10.02],[34.9,9.8],[34.99,9.55],[34.99,9.23],[34.49,9.26],[35.08,8.97],[35.08,8.75],[35.16,8.6],[35.16,8.38],[35.23,8.31],[35.32,8.24],[35.4,8.19],[35.4,8.03],[35.23,7.88],[35.32,7.76],[35.49,8.97],[35.49,8.67],[35.67,9.8],[35.79,9.73],[35.82,9.62],[35.55,9.48],[35.82,9.41],[35.88,9.27],[35.88,9.15],[35.94,9.03]];

const panels=[
 {id:'a',letter:'A',left:318,right:1581,top:216,bottom:1327,span:54,tickDays:xTickDaysA,tickLabels:xTickLabelsA,sim:simulatedA,meas:measuredA,ly:248,lx:402,lb:247},
 {id:'b',letter:'B',left:2032,right:3281,top:216,bottom:1327,span:10,tickDays:xTickDaysB,tickLabels:xTickLabelsB,sim:simulatedB,meas:measuredB,ly:1965,lx:2102,lb:247},
 {id:'c',letter:'C',left:312,right:1546,top:1573,bottom:2685,span:18,tickDays:xTickDaysC,tickLabels:xTickLabelsC,sim:simulatedC,meas:measuredC,ly:245,lx:402,lb:1640},
 {id:'d',letter:'D',left:2032,right:3298,top:1573,bottom:2685,span:36,tickDays:xTickDaysD,tickLabels:xTickLabelsD,sim:simulatedD,meas:measuredD,ly:1965,lx:2102,lb:1640}
];
const NS='http://www.w3.org/2000/svg';
const svg=document.getElementById('chart');
function make(tag,attrs,parent){
  const el=document.createElementNS(NS,tag);
  for(const k in attrs){el.setAttribute(k,attrs[k]);}
  parent.appendChild(el);
  return el;
}
function smoothPath(pts,maxY){
  let d='M'+pts[0][0].toFixed(1)+' '+pts[0][1].toFixed(1);
  for(let i=0;i<pts.length-1;i++){
    const p0=pts[Math.max(i-1,0)],p1=pts[i],p2=pts[i+1],p3=pts[Math.min(i+2,pts.length-1)];
    const k=0.12;
    const c1x=p1[0]+(p2[0]-p0[0])*k;
    const c1y=Math.min(maxY,p1[1]+(p2[1]-p0[1])*k);
    const c2x=p2[0]-(p3[0]-p1[0])*k;
    const c2y=Math.min(maxY,p2[1]-(p3[1]-p1[1])*k);
    d+='C'+c1x.toFixed(1)+' '+c1y.toFixed(1)+' '+c2x.toFixed(1)+' '+c2y.toFixed(1)+' '+p2[0].toFixed(1)+' '+p2[1].toFixed(1);
  }
  return d;
}
panels.forEach(function(p){
  const xScale=function(d){return p.left+d/p.span*(p.right-p.left);};
  const yScale=function(v){return p.bottom-v/14*(p.bottom-p.top);};
  const g=make('g',{},svg);
  
  

  const scaled=p.sim.map(function(q){return [xScale(q[0]),yScale(q[1])];});
  const simLine=make('path',{d:smoothPath(scaled,p.bottom),fill:'none',stroke:'#8a8a8a','stroke-width':8,'stroke-linejoin':'round','stroke-linecap':'round'},g);
  
  

  const dots=make('g',{fill:'#000'},g);
  
  
  p.meas.forEach(function(q){
    const c=make('circle',{cx:xScale(q[0]).toFixed(1),cy:yScale(q[1]).toFixed(1),r:5},dots);
    
    
  });

  const yAxis=make('line',{x1:p.left,y1:p.top,x2:p.left,y2:p.bottom,stroke:'#000','stroke-width':6},g);
  
  
  const xAxis=make('line',{x1:p.left-3,y1:p.bottom,x2:p.right+3,y2:p.bottom,stroke:'#000','stroke-width':6},g);
  
  

  yTickValues.forEach(function(v){
    const y=yScale(v);
    const t=make('line',{x1:p.left-26,y1:y,x2:p.left,y2:y,stroke:'#000','stroke-width':6},g);
    
    
    const s=String(v);
    const l=make('text',{class:'tick',x:p.ly,y:y+21,'text-anchor':'end',textLength:s.length*34.5,lengthAdjust:'spacingAndGlyphs'},g);
    l.textContent=s;
    
    
  });

  p.tickDays.forEach(function(d,i){
    const x=xScale(d);
    const t=make('line',{x1:x,y1:p.bottom,x2:x,y2:p.bottom+26,stroke:'#000','stroke-width':6},g);
    
    
    const s=p.tickLabels[i];
    const l=make('text',{class:'tick',x:x,y:p.bottom+115,'text-anchor':'middle',textLength:s.length*34.8,lengthAdjust:'spacingAndGlyphs'},g);
    l.textContent=s;
    
    
  });

  const letter=make('text',{class:'letter',x:p.lx,y:p.lb},g);
  letter.textContent=p.letter;
  
  
});
</script>
</body>
</html>
